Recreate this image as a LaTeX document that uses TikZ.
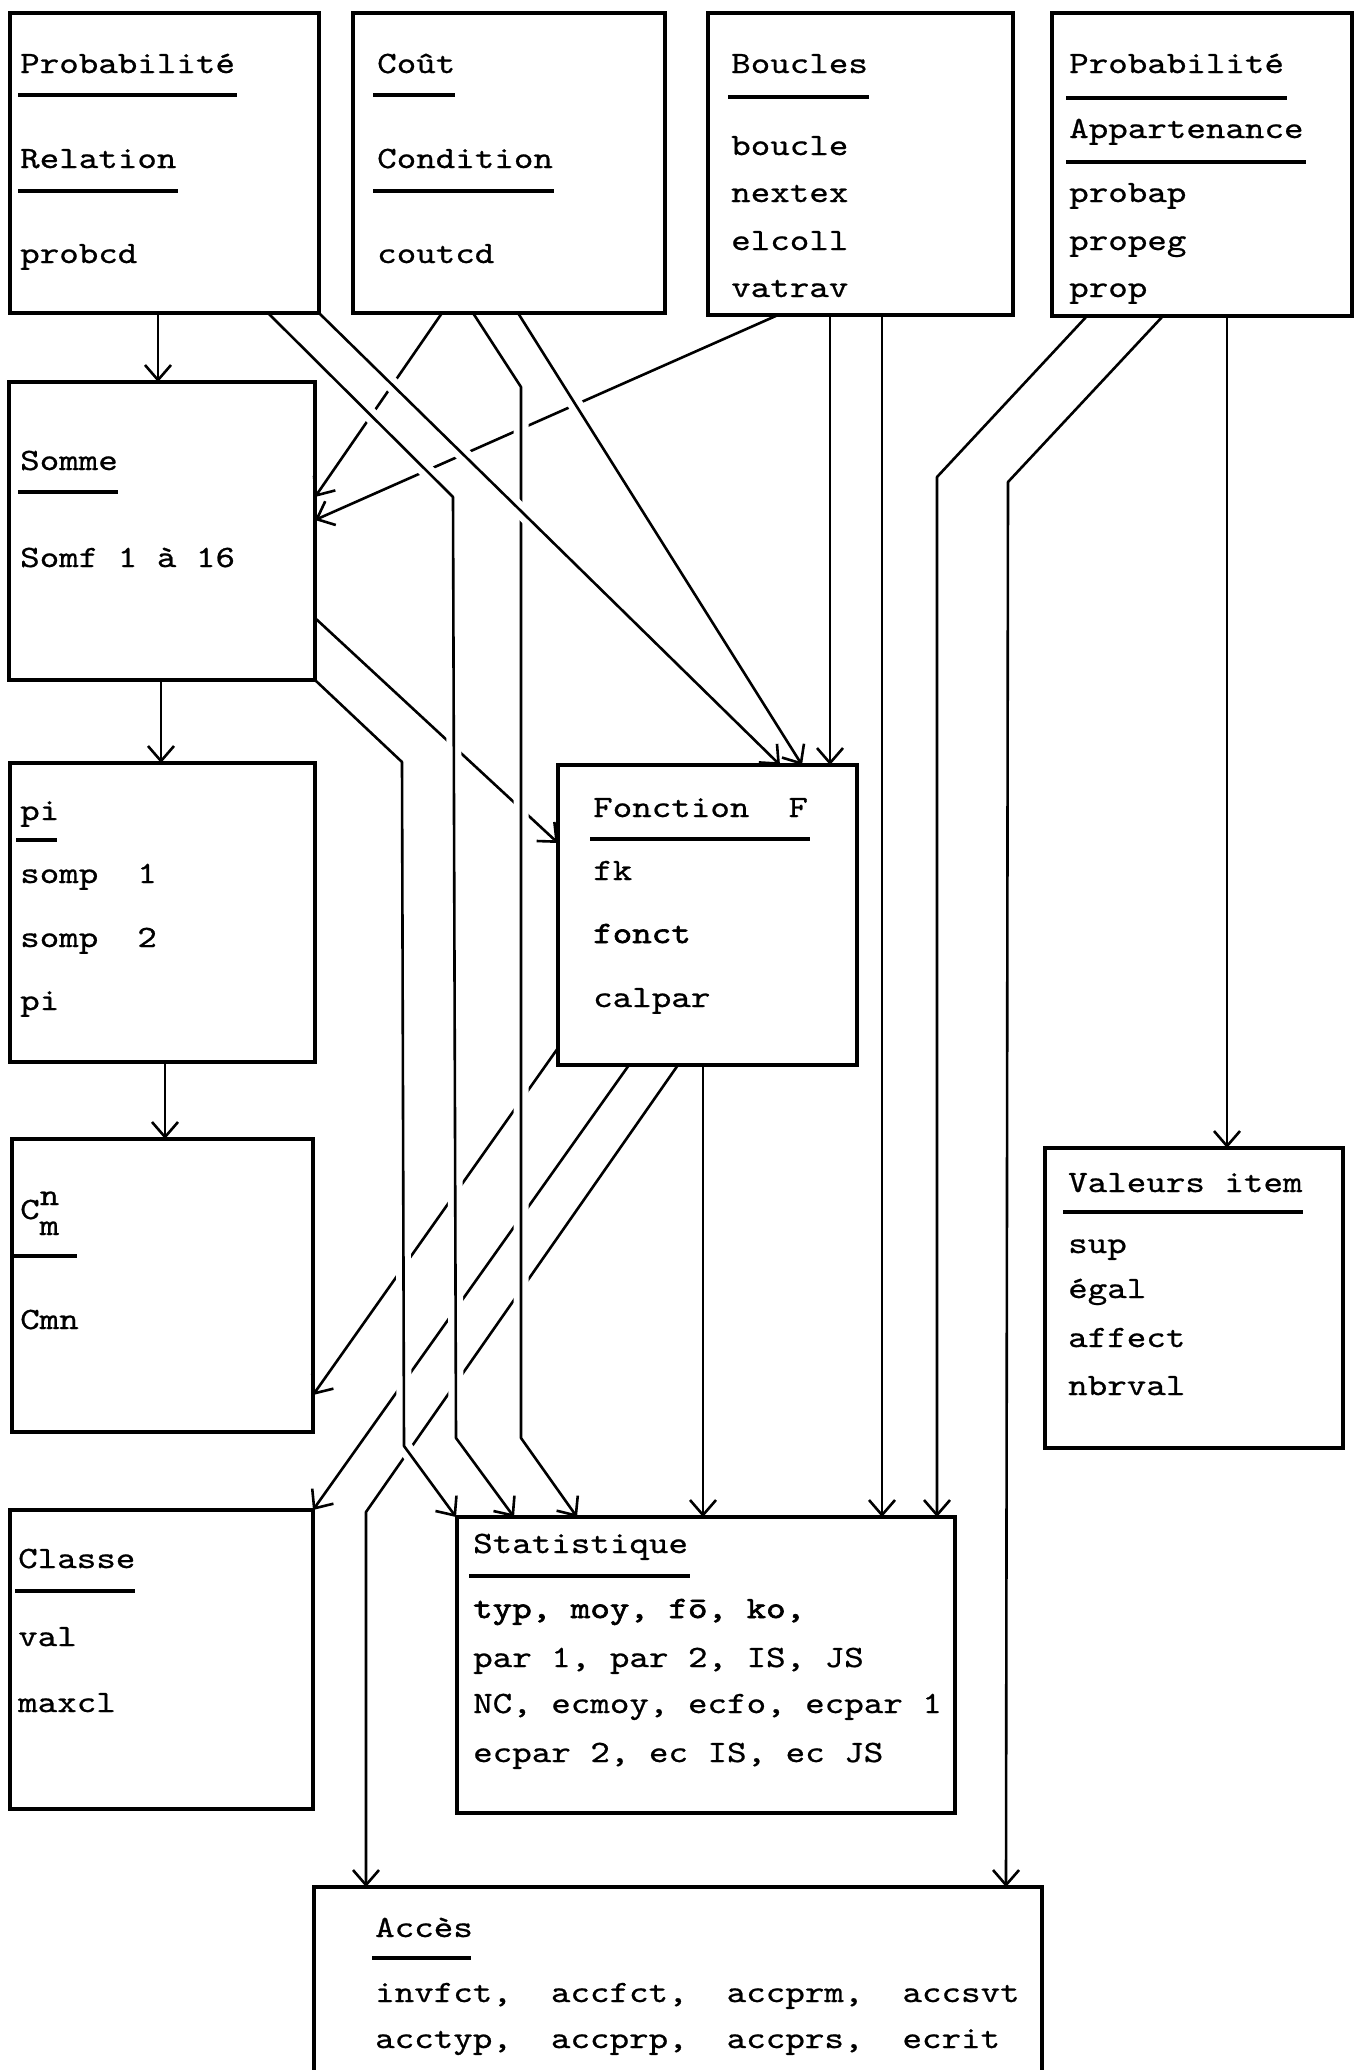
\documentclass[tikz,border=0pt]{standalone}
\usepackage{fontspec}
\setmonofont{lmmono10-regular.otf}[FakeStretch=1.2,FakeBold=0.7]
\usetikzlibrary{arrows.meta,calc}
\newcommand\tx[3]{\node[txt] (#1) at (#2) {#3};}
\newcommand\ulin[3]{\draw[uline] (#1,#3) -- (#2,#3);}
\begin{document}
\begin{tikzpicture}[x=1pt,y=-1pt,
  box/.style={draw, line width=4pt, inner sep=0pt, outer sep=0pt, anchor=north west},
  txt/.style={anchor=base west, inner sep=0pt, font=\ttfamily\fontsize{31}{36}\selectfont\frenchspacing},
  uline/.style={line width=4pt},
  conn/.style={line width=2.6pt, line join=round},
  arr/.style={conn, -{Straight Barb[length=15pt,width=26pt,line width=2.6pt]}},
  over/.style={preaction={-, draw=white, line width=15pt, shorten <=28pt, shorten >=28pt}},
  bold/.style={font=\ttfamily\fontsize{31}{36}\selectfont\frenchspacing\addfontfeature{FakeBold=2}}
]
\useasboundingbox (0,0) rectangle (1362,2070);
\fill[white] (0,0) rectangle (1362,2070);
\clip (0,0) rectangle (1362,2070);

% ---------- boxes (geometry only, borders drawn on top later) ----------
\path
  (10,13)    node[box, draw=none, minimum width=309pt, minimum height=300pt] (A) {}
  (353,13)   node[box, draw=none, minimum width=312pt, minimum height=300pt] (B) {}
  (708,13)   node[box, draw=none, minimum width=305pt, minimum height=302pt] (C) {}
  (1052,13)  node[box, draw=none, minimum width=300pt, minimum height=303pt] (D) {}
  (9,382)    node[box, draw=none, minimum width=306pt, minimum height=298pt] (E) {}
  (10,763)   node[box, draw=none, minimum width=305pt, minimum height=299pt] (F) {}
  (12,1139)  node[box, draw=none, minimum width=301pt, minimum height=293pt] (G) {}
  (10,1510)  node[box, draw=none, minimum width=303pt, minimum height=299pt] (H) {}
  (558,765)  node[box, draw=none, minimum width=299pt, minimum height=300pt] (I) {}
  (1045,1148) node[box, draw=none, minimum width=298pt, minimum height=300pt] (J) {}
  (457,1517) node[box, draw=none, minimum width=498pt, minimum height=296pt] (K) {}
  (314,1887) node[box, draw=none, minimum width=728pt, minimum height=200pt] (L) {};

% ---------- lower layer connectors (interrupted where crossed) ----------
\draw[arr] (442,0 |- B.south) -- (E.east |- 0,497);
\draw[arr] (778,0 |- C.south) -- (E.east |- 0,520);
\draw[arr] (E.east |- 0,618) -- (I.west |- 0,843);
\draw[arr] (I.west |- 0,1048) -- (G.east |- 0,1395);
\draw[arr] (629,0 |- I.south) -- (H.north east);
\draw[arr] (678,0 |- I.south) -- (366,1512) -- (366,0 |- L.north);

% ---------- middle layer ----------
\draw[arr,over] (E.south east) -- (402,762) -- (404,1446) -- (456,0 |- K.north);
\draw[arr,over] (268,0 |- A.south) -- (453,497) -- (456,1438) -- (514,0 |- K.north);
\draw[arr,over] (473,0 |- B.south) -- (521,387) -- (521,1438) -- (577,0 |- K.north);
\draw[arr,over] (518,0 |- B.south) -- (802,0 |- I.north);

% ---------- top layer ----------
\draw[arr,over] (A.south east) -- (780,0 |- I.north);

% ---------- other connectors ----------
\draw[arr] (158,0 |- A.south) -- (158,0 |- E.north);
\draw[arr] (161,0 |- E.south) -- (161,0 |- F.north);
\draw[arr] (165,0 |- F.south) -- (165,0 |- G.north);
\draw[arr] (830,0 |- C.south) -- (830,0 |- I.north);
\draw[arr] (882,0 |- C.south) -- (882,0 |- K.north);
\draw[arr] (703,0 |- I.south) -- (703,0 |- K.north);
\draw[arr] (1087,0 |- D.south) -- (937,477) -- (937,0 |- K.north);
\draw[arr] (1163,0 |- D.south) -- (1008,482) -- (1006,0 |- L.north);
\draw[arr] (1227,0 |- D.south) -- (1227,0 |- J.north);

% ---------- box borders ----------
\foreach \b in {A,B,C,D,E,F,G,H,I,J,K,L}
  \draw[line width=4pt] (\b.north west) rectangle (\b.south east);

% ---------- texts ----------
\tx{a1}{20,73}{Probabilité}   \ulin{18}{237}{95}
\tx{a2}{20,168}{Relation}     \ulin{18}{178}{191}
\tx{a3}{20,263}{probcd}

\tx{b1}{377,73}{Coût}         \ulin{373}{455}{95}
\tx{b2}{377,168}{Condition}   \ulin{373}{554}{191}
\tx{b3}{377,263}{coutcd}

\tx{c1}{731,73}{Boucles}      \ulin{728}{869}{97}
\tx{c2}{731,155}{boucle}
\tx{c3}{731,202}{nextex}
\tx{c4}{731,250}{elcoll}
\tx{c5}{731,297}{vatrav}

\tx{d1}{1069,73}{Probabilité} \ulin{1066}{1287}{98}
\tx{d2}{1069,138}{Appartenance} \ulin{1066}{1306}{162}
\tx{d3}{1069,202}{probap}
\tx{d4}{1069,250}{propeg}
\tx{d5}{1069,297}{prop}

\tx{e1}{20,470}{Somme}        \ulin{18}{118}{492}
\tx{e2}{20,567}{Somf 1 à 16}

\tx{f1}{20,820}{pi}           \ulin{16}{57}{840}
\tx{f2}{20,883}{somp~~1}
\tx{f3}{20,947}{somp~~2}
\tx{f4}{20,1010}{pi}

\tx{g1}{20,1219}{C\rlap{\raisebox{14pt}{n}}\raisebox{-16pt}{m}} \ulin{13}{77}{1256}
\tx{g2}{20,1329}{Cmn}

\tx{h1}{18,1568}{Classe}      \ulin{15}{135}{1591}
\tx{h2}{18,1646}{val}
\tx{h3}{18,1712}{maxcl}

\tx{i1}{593,817}{Fonction~~F} \ulin{590}{810}{839}
\tx{i2}{593,880}{fk}
\node[txt,bold] (i3) at (593,943) {fonct};
\tx{i4}{593,1007}{calpar}

\tx{j1}{1068,1192}{Valeurs item} \ulin{1063}{1303}{1212}
\tx{j2}{1068,1253}{sup}
\tx{j3}{1068,1298}{égal}
\tx{j4}{1068,1347}{affect}
\tx{j5}{1068,1395}{nbrval}

\tx{k1}{473,1553}{Statistique} \ulin{469}{690}{1576}
\node[txt,bold] (k2) at (473,1618) {typ, moy, fō, ko,};
\tx{k3}{473,1667}{par 1, par 2, IS, JS}
\tx{k4}{473,1713}{NC, ecmoy, ecfo, ecpar 1}
\tx{k5}{473,1762}{ecpar 2, ec IS, ec JS}

\tx{l1}{375,1937}{Accès}      \ulin{372}{471}{1958}
\tx{l2}{375,2002}{invfct,~~accfct,~~accprm,~~accsvt}
\tx{l3}{375,2048}{acctyp,~~accprp,~~accprs,~~ecrit}
\end{tikzpicture}
\end{document}
